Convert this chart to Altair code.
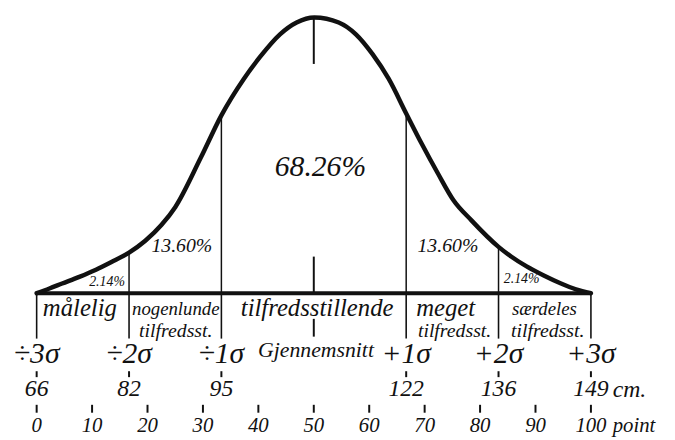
import altair as alt
import pandas as pd

# ---------------- data ----------------
# x in "point" units (0 = -3 sigma, 100 = +3 sigma); height relative to the peak
curve_x = [0, 2.3, 4.6, 7.7, 10.7, 13.5, 16.67, 19.6, 22.5, 25.0, 29.6, 33.33, 37.4, 40.3,
           43.9, 46.9, 50.1, 54.5, 57.6, 60.6, 63.5, 66.67, 69.5, 72.4, 75.2, 78.4, 83.33,
           85.6, 88.4, 91.4, 94.5, 97.3, 100]
curve_h = [0, 0.017, 0.035, 0.059, 0.085, 0.113, 0.147, 0.190, 0.247, 0.312, 0.491, 0.645,
           0.778, 0.857, 0.939, 0.982, 1.0, 0.982, 0.939, 0.867, 0.778, 0.652, 0.541, 0.434,
           0.337, 0.265, 0.168, 0.133, 0.097, 0.065, 0.036, 0.014, 0]

sigma_pos = [0, 16.67, 33.33, 66.67, 83.33, 100]
sigma_text = ["÷3σ", "÷2σ", "÷1σ", "+1σ", "+2σ", "+3σ"]
cm_text = ["66", "82", "95", "122", "136", "149"]
mean_pos = 50
mean_text = "Gjennemsnitt"

inner_pos = [16.67, 33.33, 66.67, 83.33]
inner_top = [0.147, 0.645, 0.652, 0.168]

pct_small_text = ["2.14%", "2.14%"]
pct_small_x = [12.7, 87.5]
pct_small_h = [0.039, 0.050]
pct_mid_text = ["13.60%", "13.60%"]
pct_mid_x = [26.2, 74.2]
pct_mid_h = [0.172, 0.172]
pct_big_text = ["68.26%"]
pct_big_x = [51.2]
pct_big_h = [0.459]

row1_text = ["målelig", "nogenlunde", "tilfredsstillende", "meget", "særdeles"]
row1_x = [7.8, 25.1, 50.6, 73.8, 91.6]
row2_text = ["tilfredsst.", "tilfredsst.", "tilfredsst."]
row2_x = [25.1, 75.4, 92.2]

point_ticks = [0, 10, 20, 30, 40, 50, 60, 70, 80, 90, 100]

# ---------------- layout ----------------
W, H = 667, 432
PX_PT = 5.61          # pixels per point unit
ORIGIN_X = 29         # plot x of point 0
BASE_Y = 286          # plot y of baseline
PX_H = 279            # pixels per unit height
XD = [-ORIGIN_X / PX_PT, (W - ORIGIN_X) / PX_PT]
YD = [(BASE_Y - H) / PX_H, BASE_Y / PX_H]
XS = alt.Scale(domain=XD, nice=False, zero=False)
YS = alt.Scale(domain=YD, nice=False, zero=False)

def lvl(py):  # a plot-pixel row expressed in height units
    return (BASE_Y - py) / PX_H

FONT = "Liberation Serif"
INK = "#111111"

def X(f):
    return alt.X(f, type="quantitative", scale=XS, axis=None)

def Y(f):
    return alt.Y(f, type="quantitative", scale=YS, axis=None)

def text_layer(df, size, y_level=None, baseline="middle", align="center", dx=0, weight="normal"):
    enc = dict(x=X("x"), text=alt.Text("t:N"))
    enc["y"] = Y("h") if y_level is None else alt.Y(datum=y_level, type="quantitative", scale=YS, axis=None)
    return alt.Chart(df).mark_text(font=FONT, fontStyle="italic", fontSize=size, baseline=baseline,
                                   align=align, dx=dx, color=INK, fontWeight=weight).encode(**enc)

curve_df = pd.DataFrame({"x": curve_x, "h": curve_h})
curve = alt.Chart(curve_df).mark_line(color=INK, strokeWidth=4.5, interpolate="monotone",
                                      strokeCap="round").encode(x=X("x"), y=Y("h"))

base_df = pd.DataFrame({"x": [curve_x[0]], "x2": [curve_x[-1]], "h": [0]})
baseline = alt.Chart(base_df).mark_rule(color=INK, strokeWidth=4).encode(
    x=X("x"), x2="x2", y=Y("h"))

inner_df = pd.DataFrame({"x": inner_pos, "h": [0] * 4, "h2": inner_top})
inner = alt.Chart(inner_df).mark_rule(color=INK, strokeWidth=1.5).encode(x=X("x"), y=Y("h"), y2="h2")

below_df = pd.DataFrame({"x": sigma_pos, "h": [0] * 6, "h2": [lvl(332)] * 6})
below = alt.Chart(below_df).mark_rule(color=INK, strokeWidth=1.6).encode(x=X("x"), y=Y("h"), y2="h2")

mean_df = pd.DataFrame({"x": [mean_pos] * 3,
                        "h": [1.0, 0, lvl(312)],
                        "h2": [lvl(54), lvl(249), lvl(330)]})
mean_ticks = alt.Chart(mean_df).mark_rule(color=INK, strokeWidth=2).encode(x=X("x"), y=Y("h"), y2="h2")

cm_tick_df = pd.DataFrame({"x": sigma_pos, "h": [lvl(365)] * 6, "h2": [lvl(371)] * 6})
cm_ticks = alt.Chart(cm_tick_df).mark_rule(color=INK, strokeWidth=2).encode(x=X("x"), y=Y("h"), y2="h2")

pt_tick_df = pd.DataFrame({"x": point_ticks, "h": [lvl(399)] * 11, "h2": [lvl(407)] * 11})
pt_ticks = alt.Chart(pt_tick_df).mark_rule(color=INK, strokeWidth=2).encode(x=X("x"), y=Y("h"), y2="h2")

pct_small = text_layer(pd.DataFrame({"x": pct_small_x, "h": pct_small_h, "t": pct_small_text}), 14)
pct_mid = text_layer(pd.DataFrame({"x": pct_mid_x, "h": pct_mid_h, "t": pct_mid_text}), 20)
pct_big = text_layer(pd.DataFrame({"x": pct_big_x, "h": pct_big_h, "t": pct_big_text}), 30)

row1_df = pd.DataFrame({"x": row1_x, "t": row1_text})
small_words = ["nogenlunde", "særdeles"]
row1_big = text_layer(row1_df[~row1_df.t.isin(small_words)], 25, lvl(309), baseline="alphabetic")
row1_small = text_layer(row1_df[row1_df.t.isin(small_words)], 19, lvl(308), baseline="alphabetic")
row2 = text_layer(pd.DataFrame({"x": row2_x, "t": row2_text}), 20, lvl(330), baseline="alphabetic")

sig = text_layer(pd.DataFrame({"x": sigma_pos, "t": sigma_text}), 30, lvl(348))
mean_lab = text_layer(pd.DataFrame({"x": [50.4], "t": [mean_text]}), 22, lvl(344))

cm_df = pd.DataFrame({"x": sigma_pos, "t": cm_text})
cm = text_layer(cm_df, 24, lvl(383))
cm_unit = text_layer(pd.DataFrame({"x": [sigma_pos[-1]], "t": ["cm."]}), 24, lvl(384), align="left", dx=22)

pt = text_layer(pd.DataFrame({"x": point_ticks, "t": [str(p) for p in point_ticks]}), 21, lvl(421))
pt_unit = text_layer(pd.DataFrame({"x": [point_ticks[-1]], "t": ["point"]}), 21, lvl(421), align="left", dx=22)

chart = alt.layer(
    inner, below, mean_ticks, cm_ticks, pt_ticks, baseline, curve,
    pct_small, pct_mid, pct_big, row1_big, row1_small, row2, sig, mean_lab, cm, cm_unit, pt, pt_unit
).properties(width=W, height=H, padding=0, autosize="none", background="white"
).configure_view(stroke=None)

chart.save("out.html", embed_options={"renderer": "svg", "actions": False})
